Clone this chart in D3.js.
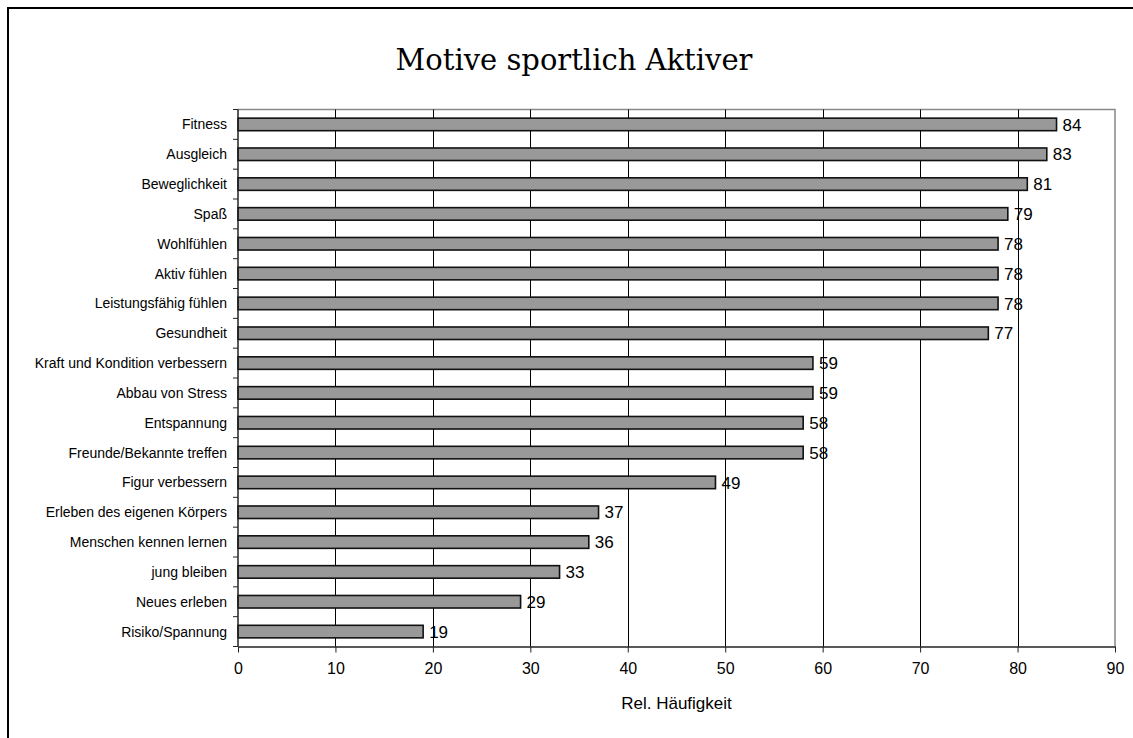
<!DOCTYPE html>
<html>
<head>
<meta charset="utf-8">
<script src="https://cdn.jsdelivr.net/npm/d3@7"></script>
<style>
  html, body { margin: 0; background: #fff; overflow: hidden; }
  svg { display: block; }
  svg text { font-family: Arial, "Liberation Sans", sans-serif; fill: #000; }
</style>
</head>
<body>
<div class="chart-box"></div>
<script>
/* Data */
const motives = ["Fitness", "Ausgleich", "Beweglichkeit", "Spaß", "Wohlfühlen", "Aktiv fühlen",
  "Leistungsfähig fühlen", "Gesundheit", "Kraft und Kondition verbessern", "Abbau von Stress",
  "Entspannung", "Freunde/Bekannte treffen", "Figur verbessern", "Erleben des eigenen Körpers",
  "Menschen kennen lernen", "jung bleiben", "Neues erleben", "Risiko/Spannung"];
const shares = [84, 83, 81, 79, 78, 78, 78, 77, 59, 59, 58, 58, 49, 37, 36, 33, 29, 19];
const xTicks = [0, 10, 20, 30, 40, 50, 60, 70, 80, 90];
const chartTitle = "Motive sportlich Aktiver";
const xTitle = "Rel. Häufigkeit";

/* Layout */
const width = 1133, height = 738;
const plot = { left: 238, right: 1115, top: 109.5, bottom: 646.5 };

let svg = d3.select(".chart-box")
  .append("svg")
  .attr("width", width)
  .attr("height", height);

// outer chart frame: only left and top edges fall inside the picture
svg.append("path")
  .attr("d", `M8,${height}V8H${width}`)
  .attr("fill", "none")
  .attr("stroke", "#000")
  .attr("stroke-width", 2);

let x = d3.scaleLinear().domain([0, 90]).range([plot.left, plot.right]);
let y = d3.scaleBand().domain(motives).range([plot.top, plot.bottom]).paddingInner(0.58).paddingOuter(0.29);
let band = d3.scaleBand().domain(motives).range([plot.top, plot.bottom]);

// plot area border: gray top + right
svg.append("path")
  .attr("d", `M${plot.left},${plot.top}H${plot.right}V${plot.bottom}`)
  .attr("fill", "none")
  .attr("stroke", "#888")
  .attr("stroke-width", 1.5);

// vertical gridlines
svg.append("g")
  .selectAll("line")
  .data(xTicks.filter(d => d > 0 && d < 90))
  .enter()
  .append("line")
  .attr("x1", d => Math.round(x(d)) + 0.5)
  .attr("x2", d => Math.round(x(d)) + 0.5)
  .attr("y1", plot.top)
  .attr("y2", plot.bottom)
  .attr("stroke", "#000")
  .attr("stroke-width", 1);

// bars
svg.append("g")
  .selectAll("rect")
  .data(shares)
  .enter()
  .append("rect")
  .attr("x", x(0))
  .attr("y", (d, i) => y(motives[i]))
  .attr("width", d => x(d) - x(0))
  .attr("height", y.bandwidth())
  .attr("fill", "#999999")
  .attr("stroke", "#111")
  .attr("stroke-width", 1.6);

// value labels
svg.append("g")
  .selectAll("text")
  .data(shares)
  .enter()
  .append("text")
  .attr("x", d => x(d) + 6)
  .attr("y", (d, i) => y(motives[i]) + y.bandwidth() / 2)
  .attr("dy", "0.36em")
  .style("font-size", "17px")
  .text(d => d);

// x axis
let xAxis = svg.append("g")
  .attr("transform", `translate(0,${plot.bottom})`)
  .call(d3.axisBottom(x).tickValues(xTicks).tickSize(6).tickSizeOuter(0));
xAxis.select(".domain").attr("stroke", "#222").attr("stroke-width", 1.5);
xAxis.selectAll(".tick line").attr("stroke", "#222");
xAxis.selectAll(".tick text")
  .attr("y", 16)
  .attr("dy", "0.71em")
  .style("font-size", "16px")
  .style("font-family", "Arial, 'Liberation Sans', sans-serif");

// y axis: ticks sit between categories
let yAxis = svg.append("g")
  .attr("transform", `translate(${plot.left},0)`);
yAxis.append("line")
  .attr("x1", 0).attr("x2", 0)
  .attr("y1", plot.top).attr("y2", plot.bottom)
  .attr("stroke", "#222").attr("stroke-width", 1.5);
yAxis.selectAll(".ytick")
  .data(motives.concat(["__end"]))
  .enter()
  .append("line")
  .attr("class", "ytick")
  .attr("x1", -5).attr("x2", 0)
  .attr("y1", (d, i) => i < motives.length ? band(d) : plot.bottom)
  .attr("y2", (d, i) => i < motives.length ? band(d) : plot.bottom)
  .attr("stroke", "#222");
yAxis.selectAll("text")
  .data(motives)
  .enter()
  .append("text")
  .attr("x", -11)
  .attr("y", d => band(d) + band.bandwidth() / 2)
  .attr("dy", "0.36em")
  .attr("text-anchor", "end")
  .style("font-size", "14px")
  .text(d => d);

// titles
svg.append("text")
  .attr("x", 574)
  .attr("y", 70)
  .attr("text-anchor", "middle")
  .style("font-family", "'DejaVu Serif', serif")
  .style("font-size", "29px")
  .text(chartTitle);

svg.append("text")
  .attr("x", (plot.left + plot.right) / 2)
  .attr("y", 709)
  .attr("text-anchor", "middle")
  .style("font-size", "17px")
  .text(xTitle);
</script>
</body>
</html>
